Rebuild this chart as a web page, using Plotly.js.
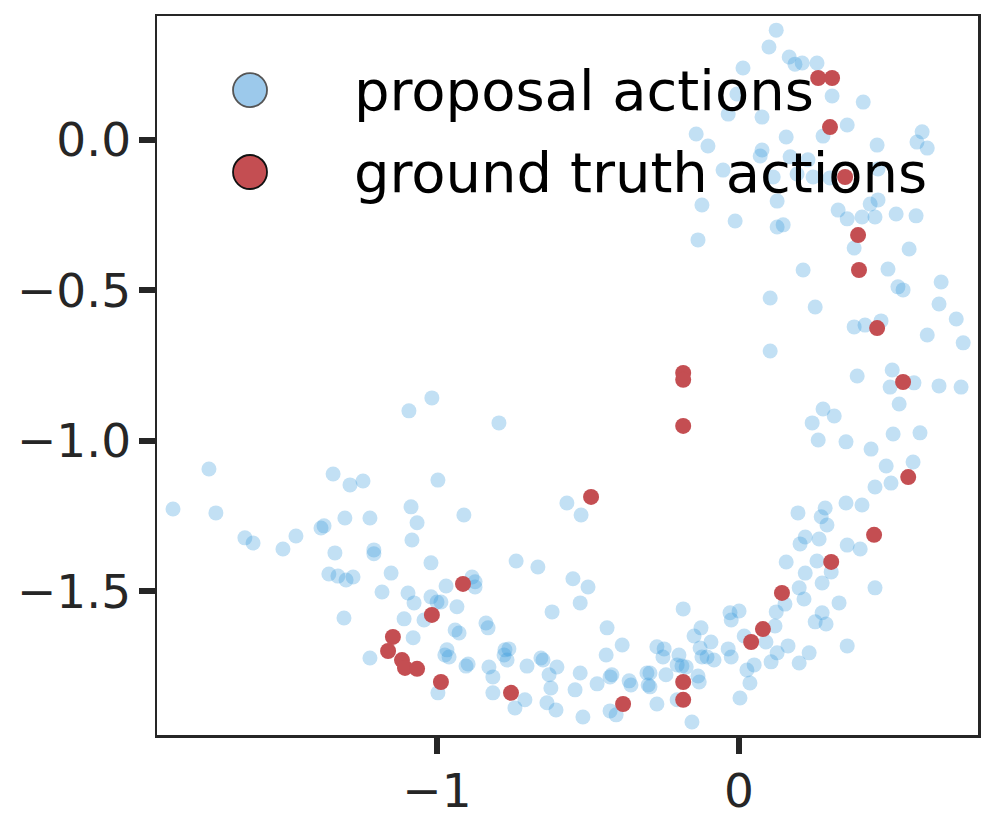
<!DOCTYPE html>
<html>
<head>
<meta charset="utf-8">
<script src="https://cdn.plot.ly/plotly-3.0.1.min.js"></script>
<style>
html,body{margin:0;padding:0;background:#fff;}
#chart{width:996px;height:825px;}
</style>
</head>
<body>
<div id="chart"></div>
<script>
// proposal actions (blue)
const propX = [
-1.358,-1.328,-1.301,-1.278,-1.308,-1.222,-1.020,-1.152,-0.738,-0.666,
-0.884,-0.874,-0.874,-1.182,-1.096,-1.076,-0.970,-1.020,-1.000,-0.987,
-0.934,-1.109,-1.043,-0.550,-0.619,-1.079,-0.940,-0.927,-0.838,-0.831,
-0.967,-0.974,-0.960,-0.897,-0.904,-0.828,-0.815,-0.775,-0.762,-0.778,
-0.768,-0.702,-0.656,-0.649,-0.603,-0.629,-0.623,-0.815,-0.997,-0.742,
-0.709,-0.636,-0.606,-0.543,-0.500,-0.526,-0.185,-0.437,-0.387,-0.440,
-0.526,-0.421,-0.427,-0.470,-0.364,-0.358,-0.305,-0.295,-0.301,-0.295,
-0.242,-0.272,-0.248,-0.252,-0.199,-0.205,-0.189,-0.175,-0.136,-0.132,
-0.149,-0.126,-0.093,-0.129,-0.123,-0.106,-0.083,-0.036,-0.026,-0.030,
0.000,-0.026,0.017,0.026,0.050,0.036,0.003,0.106,0.123,0.089,
0.119,-0.272,-0.427,-0.407,-0.517,-0.156,-0.205,0.156,0.258,0.219,
0.305,0.275,0.450,0.199,0.215,0.152,0.331,0.275,0.252,0.288,
0.358,0.162,0.126,0.232,0.199,-1.755,-1.874,-1.732,-1.344,-1.288,
-1.245,-1.636,-1.609,-1.510,-1.467,-1.384,-1.374,-1.305,-1.338,-1.222,
-1.093,-1.017,-0.795,-0.997,-1.086,-1.066,-0.911,-1.083,-1.209,-1.209,
-0.570,-0.523,0.391,0.500,0.579,0.662,0.735,0.530,0.278,0.315,
0.242,0.262,0.354,0.510,0.599,0.437,0.487,0.576,0.503,0.450,
0.354,0.407,0.195,0.285,0.272,0.291,0.219,0.202,0.265,0.358,
0.401,0.123,0.099,0.166,0.185,0.209,0.258,0.013,-0.007,-0.036,
0.076,-0.142,-0.103,0.156,0.169,0.076,0.070,0.228,-0.053,0.113,
0.192,0.245,-0.123,0.126,0.308,0.411,0.358,0.278,0.457,0.606,
0.589,0.623,0.301,0.460,0.460,0.434,-0.013,-0.136,0.126,0.146,
0.212,0.103,0.252,0.103,0.328,0.358,0.407,0.450,0.520,0.586,
0.381,0.563,0.493,0.526,0.543,0.669,0.662,0.719,0.381,0.417,
0.470,0.623,0.742,0.507
];
const propY = [
-1.442,-1.449,-1.462,-1.452,-1.588,-1.721,-1.405,-1.439,-1.399,-1.419,
-1.452,-1.468,-1.485,-1.502,-1.505,-1.538,-1.482,-1.518,-1.535,-1.535,
-1.551,-1.591,-1.595,-1.458,-1.568,-1.654,-1.628,-1.638,-1.605,-1.621,
-1.694,-1.711,-1.718,-1.741,-1.748,-1.751,-1.784,-1.694,-1.691,-1.711,
-1.728,-1.748,-1.721,-1.728,-1.751,-1.777,-1.821,-1.837,-1.837,-1.887,
-1.860,-1.870,-1.894,-1.827,-1.485,-1.538,-1.558,-1.621,-1.678,-1.711,
-1.771,-1.777,-1.784,-1.807,-1.797,-1.811,-1.771,-1.771,-1.811,-1.817,
-1.777,-1.684,-1.691,-1.718,-1.711,-1.744,-1.748,-1.751,-1.781,-1.801,
-1.648,-1.621,-1.668,-1.688,-1.718,-1.718,-1.728,-1.691,-1.718,-1.571,
-1.565,-1.595,-1.648,-1.761,-1.744,-1.804,-1.854,-1.734,-1.568,-1.668,
-1.615,-1.874,-1.897,-1.910,-1.917,-1.934,-1.860,-1.402,-1.399,-1.439,
-1.435,-1.472,-1.488,-1.488,-1.525,-1.542,-1.538,-1.571,-1.601,-1.608,
-1.681,-1.681,-1.704,-1.704,-1.738,-1.093,-1.226,-1.239,-1.110,-1.146,
-1.133,-1.322,-1.339,-1.359,-1.316,-1.289,-1.282,-1.256,-1.372,-1.256,
-0.900,-0.857,-0.940,-1.130,-1.219,-1.272,-1.246,-1.329,-1.362,-1.375,
-1.206,-1.246,-0.784,-0.821,-0.807,-0.817,-0.821,-0.877,-0.894,-0.917,
-0.940,-0.997,-1.003,-0.977,-0.973,-1.027,-1.083,-1.070,-1.140,-1.153,
-1.206,-1.213,-1.239,-1.223,-1.252,-1.279,-1.319,-1.342,-1.326,-1.346,
-1.359,0.365,0.309,0.276,0.252,0.256,0.256,0.239,0.153,0.086,
0.076,0.020,-0.020,0.010,-0.056,-0.033,-0.053,-0.066,-0.100,-0.123,
-0.113,-0.123,-0.216,-0.203,0.146,0.126,0.050,0.013,-0.017,0.027,
-0.007,-0.027,-0.126,-0.096,-0.199,-0.213,-0.269,-0.332,-0.289,-0.282,
-0.432,-0.525,-0.555,-0.701,-0.233,-0.262,-0.256,-0.256,-0.246,-0.252,
-0.359,-0.362,-0.429,-0.488,-0.498,-0.472,-0.545,-0.595,-0.621,-0.615,
-0.601,-0.648,-0.674,-0.764
];
// ground truth actions (red)
const gtX = [0.262,0.308,0.301,0.351,0.394,0.397,0.457,0.543,0.560,0.447,
0.305,0.142,0.079,0.040,-0.185,-0.185,-0.384,-0.185,-0.185,-0.185,
-0.490,-0.914,-1.017,-1.146,-1.162,-1.116,-1.106,-1.066,-0.987,-0.755];
const gtY = [0.206,0.206,0.043,-0.123,-0.316,-0.432,-0.625,-0.804,-1.120,-1.312,
-1.402,-1.505,-1.625,-1.668,-1.801,-1.860,-1.874,-0.774,-0.797,-0.950,
-1.186,-1.475,-1.578,-1.651,-1.698,-1.728,-1.754,-1.757,-1.801,-1.837];

const xTicks = [-1, 0];
const yTicks = [-1.5, -1.0, -0.5, 0.0];
const legendLabels = ['proposal actions', 'ground truth actions'];

const blue = 'rgba(52,152,219,0.30)';
const red = '#C44E52';
const dark = '#262626';
const font = 'DejaVu Sans, Liberation Sans, sans-serif';

const traces = [
  {x: propX, y: propY, type: 'scatter', mode: 'markers', name: legendLabels[0],
   marker: {size: 15, color: blue, line: {width: 0}}, hoverinfo: 'skip', cliponaxis: true},
  {x: gtX, y: gtY, type: 'scatter', mode: 'markers', name: legendLabels[1],
   marker: {size: 16, color: red, line: {width: 0}}, hoverinfo: 'skip', cliponaxis: true}
];

// legend drawn manually (large markers)
const legY = [0.897, 0.783];
const legX = 0.1133;
const shapes = [];
const annotations = [];
const legFill = ['#9CC9EB', red];
const legEdge = ['#555555', '#111111'];
for (let i = 0; i < 2; i++) {
  shapes.push({type: 'circle', xref: 'paper', yref: 'paper', xsizemode: 'pixel', ysizemode: 'pixel',
    xanchor: legX, yanchor: legY[i], x0: -17, x1: 17, y0: -17, y1: 17,
    fillcolor: legFill[i], line: {color: legEdge[i], width: 1.8}, layer: 'above'});
  annotations.push({xref: 'paper', yref: 'paper', x: 0.2375, y: legY[i], xanchor: 'left', yanchor: 'middle',
    text: legendLabels[i], showarrow: false, font: {family: font, size: 56, color: '#000'}});
}

const layout = {
  width: 996, height: 825,
  margin: {l: 157, r: 18, t: 16, b: 90, pad: 0},
  paper_bgcolor: '#fff', plot_bgcolor: '#fff',
  showlegend: false,
  font: {family: font, size: 47, color: dark},
  xaxis: {range: [-1.927, 0.791], tickvals: xTicks, ticktext: xTicks.map(v => (v < 0 ? '\u2212' : '') + Math.abs(v)),
    showgrid: false, zeroline: false, showline: true, mirror: true, linecolor: dark, linewidth: 2.5,
    ticks: 'outside', ticklen: 16, tickwidth: 6, tickcolor: dark, ticklabelstandoff: -3,
    tickfont: {family: font, size: 47, color: dark}},
  yaxis: {range: [-1.977, 0.412], tickvals: yTicks, ticktext: yTicks.map(v => (v < 0 ? '\u2212' : '') + Math.abs(v).toFixed(1)),
    showgrid: false, zeroline: false, showline: true, mirror: true, linecolor: dark, linewidth: 2.5,
    ticks: 'outside', ticklen: 16, tickwidth: 6, tickcolor: dark, ticklabelstandoff: -2,
    tickfont: {family: font, size: 47, color: dark}},
  shapes: shapes,
  annotations: annotations
};

Plotly.newPlot('chart', traces, layout, {staticPlot: true, displayModeBar: false});
</script>
</body>
</html>
